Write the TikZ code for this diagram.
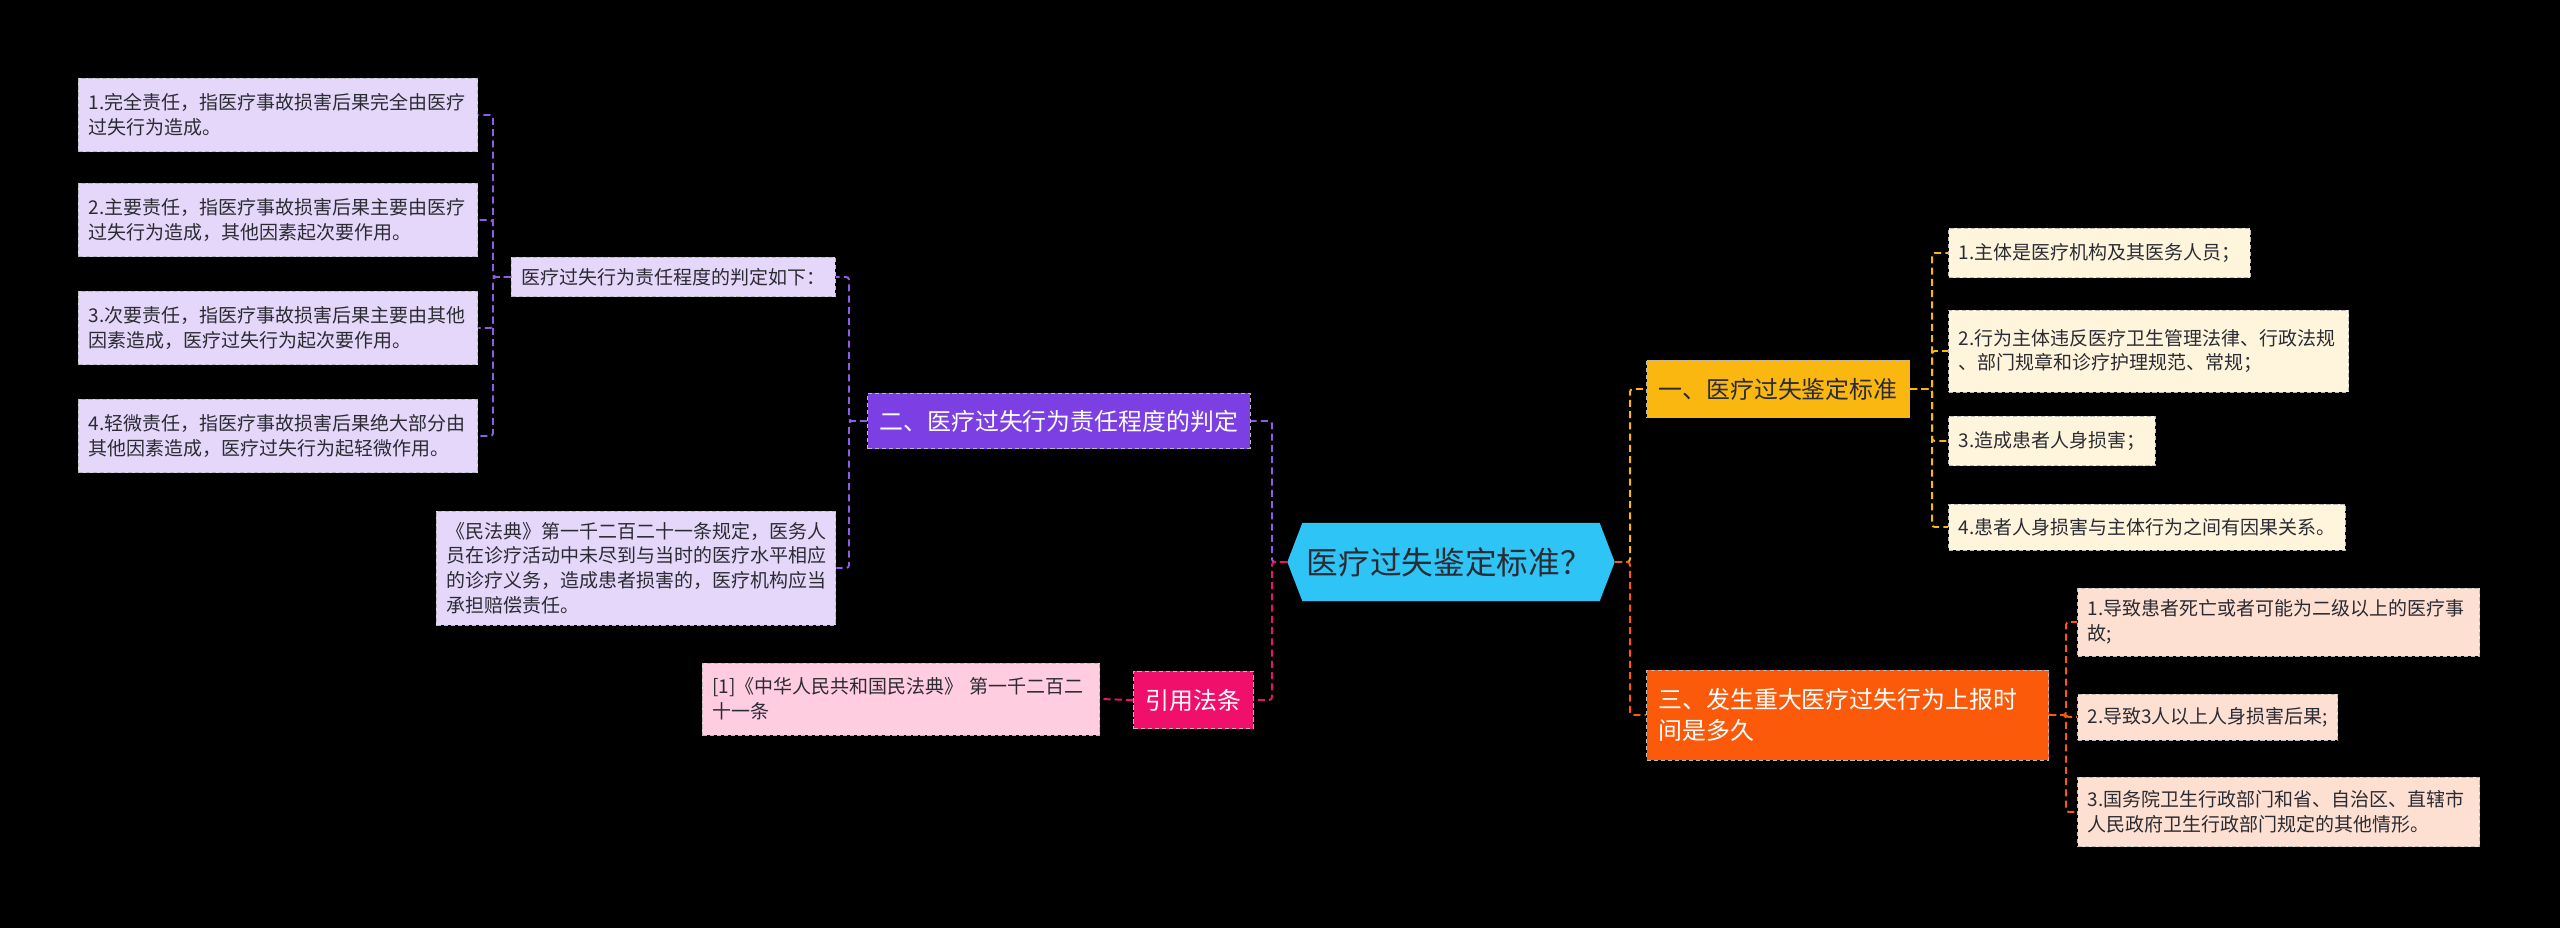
\documentclass[tikz,border=0pt]{standalone}
\usepackage{fontspec}
\setmainfont{Noto Sans CJK SC}
\usetikzlibrary{shapes.symbols}
\definecolor{rootcyan}{HTML}{2EC4F5}
\definecolor{violet}{HTML}{7B3FE4}
\definecolor{lilac}{HTML}{E4D7FA}
\definecolor{rose}{HTML}{F0106B}
\definecolor{blush}{HTML}{FFCCE0}
\definecolor{amber}{HTML}{FAB710}
\definecolor{cream}{HTML}{FFF5DC}
\definecolor{tangerine}{HTML}{FB5A0B}
\definecolor{peach}{HTML}{FDE0D2}
\definecolor{ink}{HTML}{2B2B33}
\tikzset{
	box/.style={draw=gray!55, dash pattern=on 3pt off 2pt, line width=0.7pt, anchor=west,
		inner xsep=0.25cm, inner ysep=0.1cm, align=left, text=ink},
	leaf/.style={box, font=\fontsize{13.5pt}{17.5pt}\selectfont},
	topic/.style={box, inner xsep=0.3cm, font=\fontsize{17pt}{22pt}\selectfont},
	link/.style={line width=1.4pt, dash pattern=on 5pt off 3pt, rounded corners=2pt}
}
\newcommand{\branch}[4] % colour, from, joint, to
{
	\draw[link, #1] (#2) -- (#3 |- #2) |- (#4);
}

\begin{document}
\begin{tikzpicture}[x=0.025cm, y=-0.025cm]
	% canvas 2560 x 928 px
	\fill[black] (0,0) rectangle (2560,928);
	\useasboundingbox (0,0) rectangle (2560,928);

	% root
	\node[signal, signal to=west and east, signal pointer angle=138, fill=rootcyan, text=ink,
		text width=7.2cm, align=left, minimum width=8.13cm, minimum height=1.95cm,
		font=\fontsize{22.5pt}{27pt}\selectfont]
		(root) at (1451,562) {医疗过失鉴定标准？};

	% left: purple branch
	\node[topic, fill=violet, text=white, minimum height=1.38cm] (two) at (867,421) {二、医疗过失行为责任程度的判定};
	\node[leaf, fill=lilac, minimum height=0.98cm] (judge) at (511,277) {医疗过失行为责任程度的判定如下：};
	\node[leaf, fill=lilac, text width=9.48cm, minimum height=2.85cm] (civil) at (436,568)
		{《民法典》第一千二百二十一条规定，医务人\\员在诊疗活动中未尽到与当时的医疗水平相应\\的诊疗义务，造成患者损害的，医疗机构应当\\承担赔偿责任。};
	\node[leaf, fill=lilac, text width=9.48cm, minimum height=1.83cm] (resp1) at (78,115)
		{1.完全责任，指医疗事故损害后果完全由医疗\\过失行为造成。};
	\node[leaf, fill=lilac, text width=9.48cm, minimum height=1.83cm] (resp2) at (78,220)
		{2.主要责任，指医疗事故损害后果主要由医疗\\过失行为造成，其他因素起次要作用。};
	\node[leaf, fill=lilac, text width=9.48cm, minimum height=1.83cm] (resp3) at (78,328)
		{3.次要责任，指医疗事故损害后果主要由其他\\因素造成，医疗过失行为起次要作用。};
	\node[leaf, fill=lilac, text width=9.48cm, minimum height=1.83cm] (resp4) at (78,436)
		{4.轻微责任，指医疗事故损害后果绝大部分由\\其他因素造成，医疗过失行为起轻微作用。};

	% left: pink branch
	\node[topic, fill=rose, text=white, minimum height=1.43cm] (cite) at (1133,700) {引用法条};
	\node[leaf, fill=blush, text width=9.43cm, minimum height=1.8cm] (law) at (702,699)
		{[1]《中华人民共和国民法典》 第一千二百二\\十一条};

	% right: yellow branch
	\node[topic, fill=amber, minimum height=1.43cm] (one) at (1646,389) {一、医疗过失鉴定标准};
	\node[leaf, fill=cream, minimum height=1.23cm] (crit1) at (1948,253) {1.主体是医疗机构及其医务人员；};
	\node[leaf, fill=cream, text width=9.5cm, minimum height=2.05cm] (crit2) at (1948,351)
		{2.行为主体违反医疗卫生管理法律、行政法规\\、部门规章和诊疗护理规范、常规；};
	\node[leaf, fill=cream, minimum height=1.23cm] (crit3) at (1948,441) {3.造成患者人身损害；};
	\node[leaf, fill=cream, minimum height=1.15cm] (crit4) at (1948,527) {4.患者人身损害与主体行为之间有因果关系。};

	% right: orange branch
	\node[topic, fill=tangerine, text=white, text width=9.45cm, minimum height=2.25cm] (three) at (1646,715)
		{三、发生重大医疗过失行为上报时\\间是多久};
	\node[leaf, fill=peach, text width=9.55cm, minimum height=1.7cm] (rep1) at (2077,622)
		{1.导致患者死亡或者可能为二级以上的医疗事\\故;};
	\node[leaf, fill=peach, minimum height=1.15cm] (rep2) at (2077,717) {2.导致3人以上人身损害后果;};
	\node[leaf, fill=peach, text width=9.55cm, minimum height=1.73cm] (rep3) at (2077,812)
		{3.国务院卫生行政部门和省、自治区、直辖市\\人民政府卫生行政部门规定的其他情形。};

	% joints
	\coordinate (jroot-l) at (1272,0);
	\coordinate (jroot-r) at (1630,0);
	\coordinate (jtwo) at (849,0);
	\coordinate (jjudge) at (493,0);
	\coordinate (jone) at (1932,0);
	\coordinate (jthree) at (2066,0);

	% connectors
	\branch{violet!85!white}{root.west}{jroot-l}{two.east}
	\branch{rose}{root.west}{jroot-l}{cite.east}
	\draw[link, rose] (cite.west) -- (law.east);
	\branch{violet!85!white}{two.west}{jtwo}{judge.east}
	\branch{violet!85!white}{two.west}{jtwo}{civil.east}
	\branch{violet!85!white}{judge.west}{jjudge}{resp1.east}
	\branch{violet!85!white}{judge.west}{jjudge}{resp2.east}
	\branch{violet!85!white}{judge.west}{jjudge}{resp3.east}
	\branch{violet!85!white}{judge.west}{jjudge}{resp4.east}
	\branch{amber}{root.east}{jroot-r}{one.west}
	\branch{tangerine}{root.east}{jroot-r}{three.west}
	\branch{amber}{one.east}{jone}{crit1.west}
	\branch{amber}{one.east}{jone}{crit2.west}
	\branch{amber}{one.east}{jone}{crit3.west}
	\branch{amber}{one.east}{jone}{crit4.west}
	\branch{tangerine}{three.east}{jthree}{rep1.west}
	\branch{tangerine}{three.east}{jthree}{rep2.west}
	\branch{tangerine}{three.east}{jthree}{rep3.west}
\end{tikzpicture}
\end{document}
